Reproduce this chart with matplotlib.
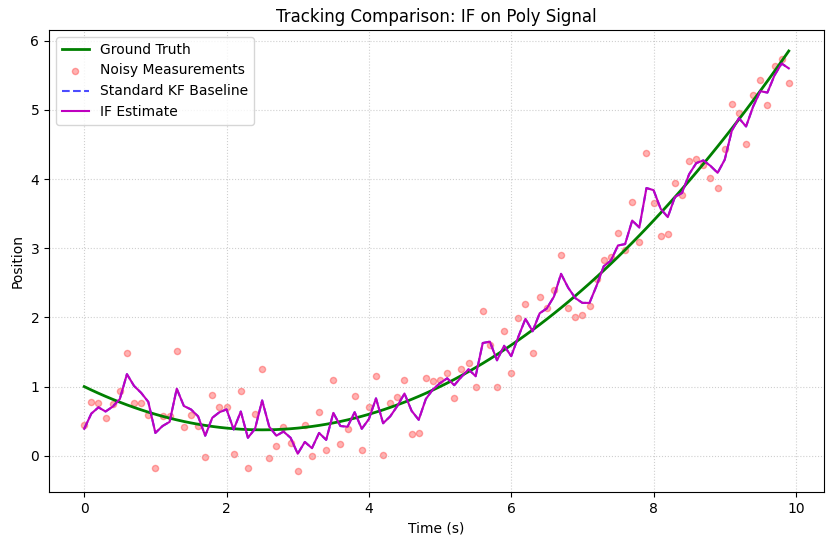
import matplotlib
matplotlib.use('Agg')
from matplotlib import pyplot as plt

# time axis, 0.0 .. 9.9 in steps of 0.1
time = [k / 10 for k in range(100)]

ground_truth = [
    1.000, 0.951, 0.904, 0.859, 0.816, 0.775, 0.736, 0.699, 0.664, 0.631,
    0.600, 0.571, 0.544, 0.519, 0.496, 0.475, 0.456, 0.439, 0.424, 0.411,
    0.400, 0.391, 0.384, 0.379, 0.376, 0.375, 0.376, 0.379, 0.384, 0.391,
    0.400, 0.411, 0.424, 0.439, 0.456, 0.475, 0.496, 0.519, 0.544, 0.571,
    0.600, 0.631, 0.664, 0.699, 0.736, 0.775, 0.816, 0.859, 0.904, 0.951,
    1.000, 1.051, 1.104, 1.159, 1.216, 1.275, 1.336, 1.399, 1.464, 1.531,
    1.600, 1.671, 1.744, 1.819, 1.896, 1.975, 2.056, 2.139, 2.224, 2.311,
    2.400, 2.491, 2.584, 2.679, 2.776, 2.875, 2.976, 3.079, 3.184, 3.291,
    3.400, 3.511, 3.624, 3.739, 3.856, 3.975, 4.096, 4.219, 4.344, 4.471,
    4.600, 4.731, 4.864, 4.999, 5.136, 5.275, 5.416, 5.559, 5.704, 5.851,
]

measurements = [
    0.44, 0.78, 0.77, 0.54, 0.75, 0.94, 1.49, 0.77, 0.77, 0.59,
    -0.17, 0.57, 0.57, 1.51, 0.42, 0.59, 0.43, -0.02, 0.88, 0.71,
    0.71, 0.03, 0.94, -0.18, 0.61, 1.25, -0.03, 0.14, 0.42, 0.19,
    -0.22, 0.44, 0.00, 0.63, 0.09, 1.09, 0.17, 0.39, 0.87, 0.08,
    0.70, 1.16, 0.01, 0.77, 0.85, 1.09, 0.32, 0.33, 1.12, 1.08,
    1.10, 1.19, 0.83, 1.25, 1.34, 0.99, 2.09, 1.60, 0.99, 1.80,
    1.20, 1.99, 2.20, 1.49, 2.29, 2.14, 2.40, 2.90, 2.13, 2.01,
    2.04, 2.16, 2.56, 2.83, 2.88, 3.22, 2.98, 3.67, 3.09, 4.38,
    3.66, 3.17, 3.20, 3.94, 3.77, 4.26, 4.29, 4.21, 4.01, 3.87,
    4.44, 5.08, 4.95, 4.51, 5.21, 5.43, 5.07, 5.63, 5.73, 5.39,
]

if_estimate = [
    0.39, 0.61, 0.70, 0.64, 0.71, 0.82, 1.18, 1.01, 0.91, 0.78,
    0.33, 0.43, 0.49, 0.97, 0.72, 0.67, 0.57, 0.29, 0.55, 0.63,
    0.67, 0.38, 0.64, 0.26, 0.39, 0.80, 0.42, 0.29, 0.35, 0.26,
    0.03, 0.20, 0.11, 0.33, 0.23, 0.62, 0.43, 0.42, 0.63, 0.39,
    0.53, 0.83, 0.47, 0.57, 0.72, 0.90, 0.65, 0.52, 0.82, 0.96,
    1.05, 1.12, 1.02, 1.14, 1.25, 1.15, 1.63, 1.65, 1.38, 1.59,
    1.44, 1.72, 1.98, 1.80, 2.06, 2.13, 2.30, 2.63, 2.43, 2.28,
    2.21, 2.21, 2.46, 2.74, 2.82, 3.04, 3.06, 3.40, 3.30, 3.87,
    3.84, 3.57, 3.45, 3.74, 3.80, 4.07, 4.23, 4.27, 4.19, 4.09,
    4.28, 4.70, 4.88, 4.76, 5.05, 5.27, 5.25, 5.50, 5.67, 5.60,
]

# the baseline sits exactly under the IF curve in the reference
kf_estimate = list(if_estimate)

W, H = 833, 546
fig = plt.figure(figsize=(W / 100, H / 100), dpi=100)
ax = fig.add_axes([49 / W, (H - 492) / H, 775 / W, 462 / H])

ax.plot(time, ground_truth, 'g-', lw=2, label='Ground Truth')
ax.scatter(time, measurements, color='red', alpha=0.3, s=20, label='Noisy Measurements')
ax.plot(time, kf_estimate, 'b--', alpha=0.7, label='Standard KF Baseline')
ax.plot(time, if_estimate, 'm-', lw=1.5, label='IF Estimate')

ax.set_title('Tracking Comparison: IF on Poly Signal')
ax.set_xlabel('Time (s)')
ax.set_ylabel('Position')
ax.legend(loc='upper left')
ax.grid(True, linestyle=':', alpha=0.6)

fig.savefig('out.png', dpi=100)
